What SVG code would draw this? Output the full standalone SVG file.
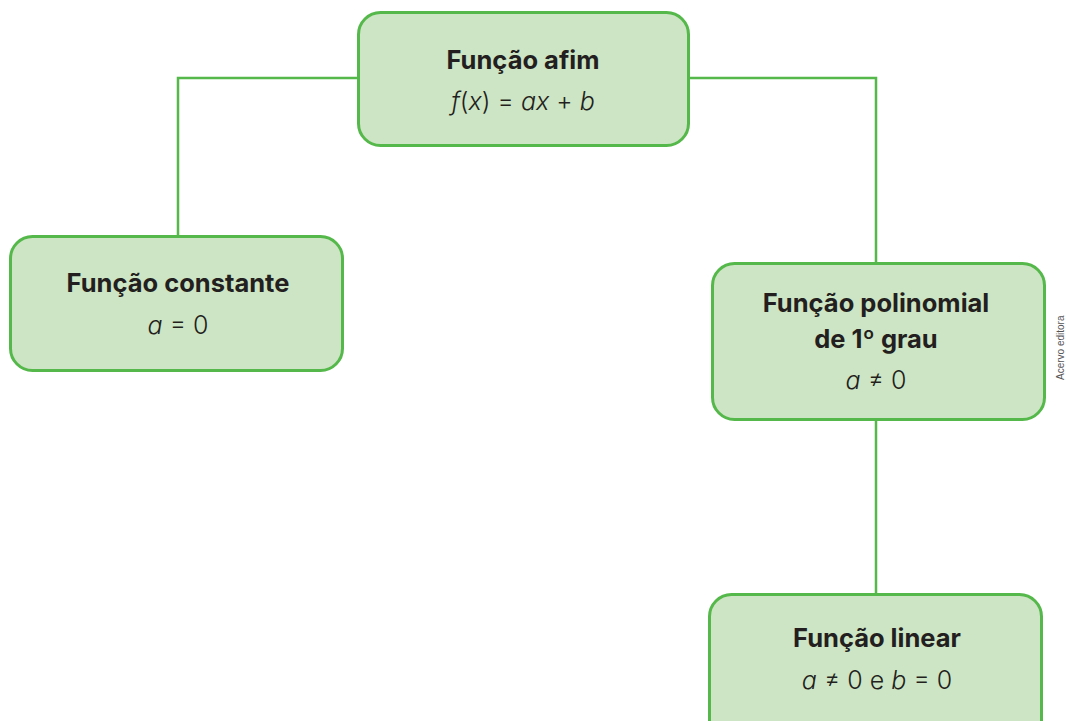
<svg xmlns="http://www.w3.org/2000/svg" width="1066" height="721" viewBox="0 0 1066 721">
<style>
.box{fill:#cde5c4;stroke:#55b84a;stroke-width:3}
.con{fill:none;stroke:#55b84a;stroke-width:2.5}
.t{font-family:Inter,"Noto Sans",sans-serif;font-weight:700;font-size:25.5px;fill:#231f20;text-anchor:middle}
.m{font-family:Inter,"Noto Sans",sans-serif;font-weight:300;font-size:25px;fill:#231f20;text-anchor:middle}
.i{font-style:italic}
.c{font-family:"Liberation Sans",sans-serif;font-size:10px;fill:#555}
</style>
<rect width="1066" height="721" fill="#fff"/>
<g id="connectors">
<path class="con" d="M358 78H178V236"/>
<path class="con" d="M689 78H876V263"/>
<path class="con" d="M876 420V594"/>
</g>
<g id="afim">
<rect class="box" x="358.5" y="12.5" width="330" height="133" rx="22"/>
<text class="t" x="523" y="69">Função afim</text>
<text class="m" x="523" y="110"><tspan class="i">f</tspan>(<tspan class="i">x</tspan>)  =  <tspan class="i">ax</tspan>  +  <tspan class="i">b</tspan></text>
</g>
<g id="constante">
<rect class="box" x="10.5" y="236.5" width="332" height="134" rx="22"/>
<text class="t" x="178" y="292">Função constante</text>
<text class="m" x="178" y="334"><tspan class="i">a</tspan>  =  0</text>
</g>
<g id="polinomial">
<rect class="box" x="712.5" y="263.5" width="332" height="156" rx="22"/>
<text class="t" x="876" y="312">Função polinomial</text>
<text class="t" x="876" y="348">de 1º grau</text>
<text class="m" x="876" y="389"><tspan class="i">a</tspan>  ≠  0</text>
</g>
<g id="linear">
<rect class="box" x="709.5" y="594.5" width="332" height="150" rx="22"/>
<text class="t" x="877" y="647">Função linear</text>
<text class="m" x="877" y="689"><tspan class="i">a</tspan>  ≠  0 e <tspan class="i">b</tspan>  =  0</text>
</g>
<text class="c" transform="translate(1064 380) rotate(-90)">Acervo editora</text>
</svg>
